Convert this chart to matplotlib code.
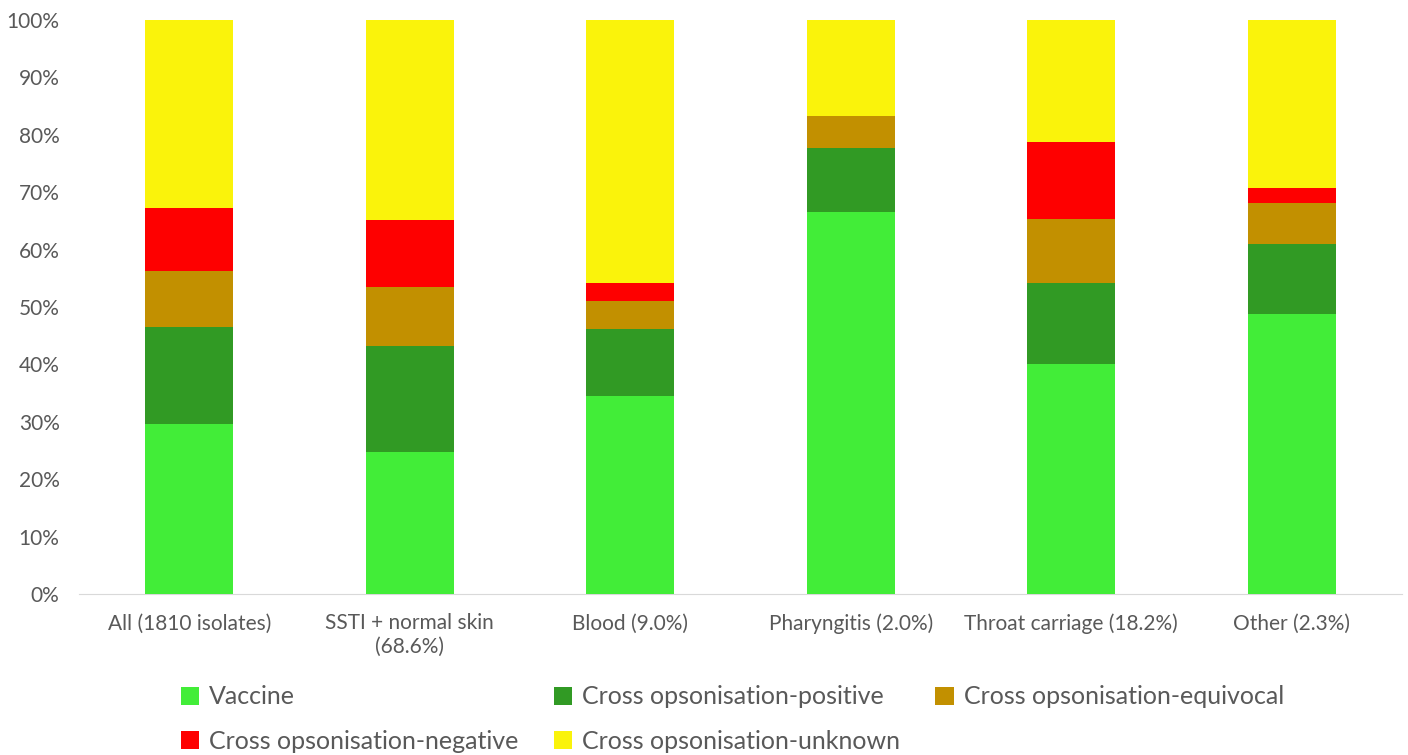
import matplotlib
matplotlib.use('Agg')
import matplotlib.pyplot as plt
import numpy as np

plt.rcParams['font.family'] = ['Lato', 'DejaVu Sans']

categories = ['All (1810 isolates)', 'SSTI + normal skin\n(68.6%)', 'Blood (9.0%)',
              'Pharyngitis (2.0%)', 'Throat carriage (18.2%)', 'Other (2.3%)']
series_names = ['Vaccine', 'Cross opsonisation-positive', 'Cross opsonisation-equivocal',
                'Cross opsonisation-negative', 'Cross opsonisation-unknown']
vaccine    = [29.7, 24.7, 34.5, 66.6, 40.1, 48.7]
positive   = [16.9, 18.5, 11.7, 11.1, 14.1, 12.3]
equivocal  = [9.7, 10.2, 4.8, 5.5, 11.1, 7.2]
negative   = [10.9, 11.8, 3.2, 0.0, 13.4, 2.5]
unknown    = [32.8, 34.8, 45.8, 16.8, 21.3, 29.3]
colors = ['#42ED38', '#319A24', '#C29000', '#FE0000', '#FAF30B']

fig = plt.figure(figsize=(14.08, 7.55), dpi=100)
ax = fig.add_axes([79/1408, 1 - 594/755, (1402 - 79)/1408, (594 - 20)/755])

x = np.arange(len(categories))
bottom = np.zeros(len(categories))
handles = []
for name, vals, c in zip(series_names, [vaccine, positive, equivocal, negative, unknown], colors):
    b = ax.bar(x, vals, bottom=bottom, width=0.4, color=c, label=name, zorder=3)
    handles.append(b)
    bottom += np.array(vals)

ax.set_xlim(-0.5, len(categories) - 0.5)
ax.set_ylim(0, 100)
ax.set_yticks(np.arange(0, 101, 10))
ax.set_yticklabels([f'{v}%' for v in range(0, 101, 10)])
ax.set_xticks(x)
ax.set_xticklabels(categories)
ax.tick_params(axis='both', length=0, labelsize=15, colors='#595959')
ax.tick_params(axis='y', pad=14)
ax.tick_params(axis='x', pad=14)
for s in ['top', 'right', 'left']:
    ax.spines[s].set_visible(False)
ax.spines['bottom'].set_color('#D9D9D9')

order = [0, 3, 1, 4, 2]
fig.legend([handles[i] for i in order], [series_names[i] for i in order],
           loc='upper left', bbox_to_anchor=(158/1408, 1 - 663/755), ncol=3,
           frameon=False, fontsize=18, handlelength=0.75, handleheight=0.75,
           handletextpad=0.4, columnspacing=1.4, labelspacing=0.85,
           labelcolor='#595959')

plt.savefig('out.png', dpi=100)
